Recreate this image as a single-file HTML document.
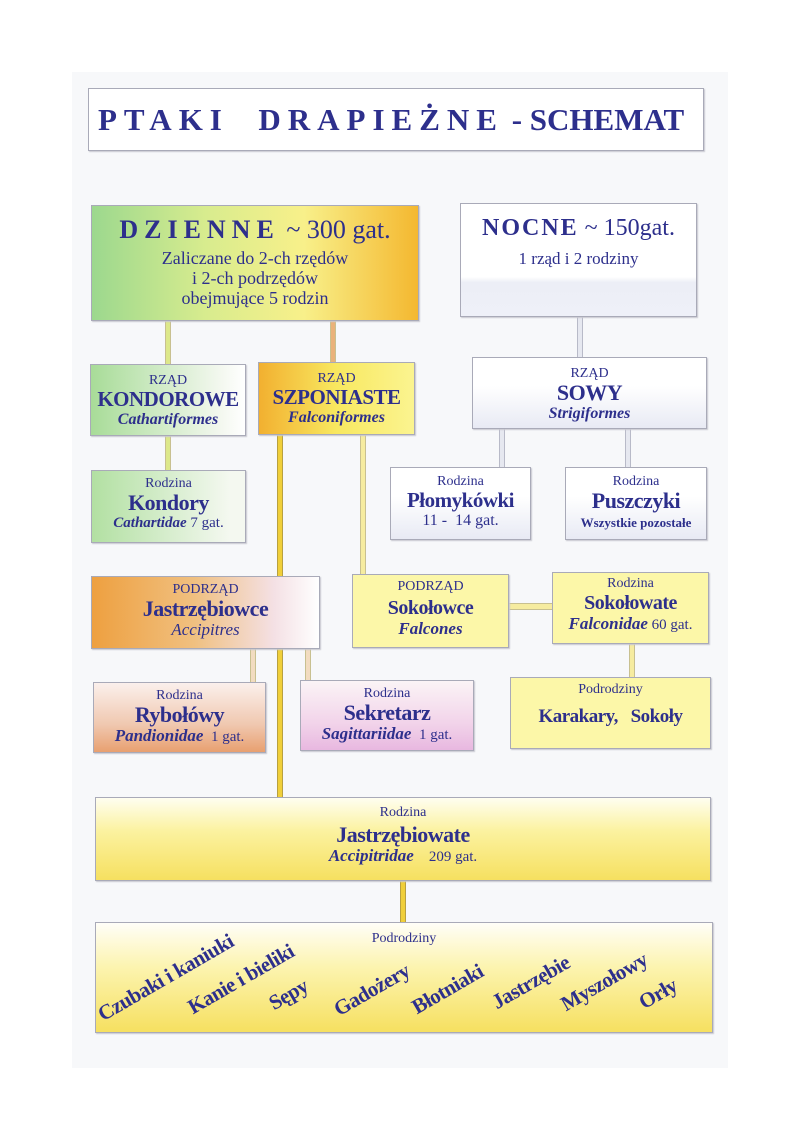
<!DOCTYPE html>
<html><head><meta charset="utf-8"><style>
body{margin:0;width:800px;height:1142px;background:#fff;position:relative;overflow:hidden;font-family:"Liberation Serif",serif;color:#2d2f8c}
.pg{position:absolute;left:72px;top:72px;width:656px;height:996px;background:#f7f8fa}
.b{position:absolute;box-sizing:border-box;border:1px solid #a9aab8;box-shadow:1px 1px 1px #c8c8d0;text-align:center;line-height:1.08}
.v{position:absolute;width:6px;background:#f3e27a;border-left:1px solid #c8c090;border-right:1px solid #c8c090;box-sizing:border-box}
.s{font-size:14px}
.big{font-size:22px;font-weight:bold;letter-spacing:-0.5px}
.it{font-style:italic;font-weight:bold;font-size:16px}
.n{font-size:15px}
.rot{position:absolute;font-weight:bold;font-size:21px;line-height:22px;height:22px;transform-origin:left bottom;transform:rotate(-30deg);white-space:nowrap;letter-spacing:-0.5px}
</style></head><body>
<div class="pg"></div>

<!-- connectors -->
<div class="v" style="left:165px;top:320px;height:44px;background:#dde88a"></div>
<div class="v" style="left:330px;top:320px;height:43px;background:#eab27a"></div>
<div class="v" style="left:577px;top:316px;height:42px;background:#e6e8f0;border-color:#b8bac8"></div>
<div class="v" style="left:165px;top:435px;height:36px;background:#dde88a"></div>
<div class="v" style="left:277px;top:434px;height:364px;background:#f0cf3a;border-color:#b8a040"></div>
<div class="v" style="left:360px;top:434px;height:141px;background:#f6eca0"></div>
<div class="v" style="left:499px;top:428px;height:40px;background:#e6e8f0;border-color:#b8bac8"></div>
<div class="v" style="left:625px;top:428px;height:40px;background:#e6e8f0;border-color:#b8bac8"></div>
<div class="v" style="left:629px;top:643px;height:35px;background:#f6eca0"></div>
<div class="v" style="left:250px;top:648px;height:35px;background:#f2dcc0"></div>
<div class="v" style="left:305px;top:648px;height:33px;background:#f2dcc0"></div>
<div class="v" style="left:400px;top:880px;height:43px;background:#f0cf3a;border-color:#b8a040"></div>
<div style="position:absolute;left:508px;top:603px;width:45px;height:7px;background:#f6eca0;border-top:1px solid #c8c090;border-bottom:1px solid #c8c090;box-sizing:border-box"></div>

<!-- title -->
<div class="b" style="left:88px;top:88px;width:616px;height:63px;background:#fff;">
<div style="position:absolute;left:9px;top:14px;font-size:31px;font-weight:bold;white-space:nowrap"><span style="letter-spacing:7px">PTAKI&nbsp; DRAPIEŻNE</span> - SCHEMAT</div></div>

<div class="b" style="left:91px;top:205px;width:328px;height:116px;background:linear-gradient(90deg,#9cd88e 0%,#d8ec8e 35%,#f8f08a 65%,#f4b830 100%);padding-top:10px">
<div style="font-size:26px"><b style="letter-spacing:6px">DZIENNE</b> ~ 300 gat.</div>
<div style="font-size:18px;margin-top:4px;line-height:1.12">Zaliczane do 2-ch rzędów<br>i 2-ch podrzędów<br>obejmujące 5 rodzin</div></div>

<div class="b" style="left:460px;top:203px;width:237px;height:114px;background:linear-gradient(#fff 0%,#fff 65%,#eceef6 70%,#eef0f8 100%);padding-top:12px">
<div style="font-size:24px"><b style="letter-spacing:2px">NOCNE</b> ~ 150gat.</div>
<div style="font-size:17px;margin-top:8px">1 rząd i 2 rodziny</div></div>

<div class="b" style="left:90px;top:364px;width:156px;height:72px;background:linear-gradient(90deg,#a8dc98,#f4f8f0 85%,#fff);padding-top:8px">
<div class="s">RZĄD</div><div class="big" style="font-size:21px">KONDOROWE</div><div class="it">Cathartiformes</div></div>

<div class="b" style="left:258px;top:362px;width:157px;height:73px;background:linear-gradient(90deg,#f2b030,#f8e860 50%,#fbf490);padding-top:8px">
<div class="s">RZĄD</div><div class="big" style="font-size:21px">SZPONIASTE</div><div class="it">Falconiformes</div></div>

<div class="b" style="left:472px;top:357px;width:235px;height:72px;background:linear-gradient(#fff 40%,#e8eaf4);padding-top:8px">
<div class="s">RZĄD</div><div class="big">SOWY</div><div class="it">Strigiformes</div></div>

<div class="b" style="left:91px;top:470px;width:155px;height:73px;background:linear-gradient(90deg,#b2e0a2,#f4f8f0 90%);padding-top:5px">
<div class="s">Rodzina</div><div class="big">Kondory</div><div class="n"><i><b>Cathartidae</b></i> 7 gat.</div></div>

<div class="b" style="left:390px;top:467px;width:141px;height:73px;background:linear-gradient(#fff 40%,#e8eaf4);padding-top:6px">
<div class="s">Rodzina</div><div class="big" style="font-size:21px">Płomykówki</div><div class="n" style="font-size:16px">11 - &nbsp;14 gat.</div></div>

<div class="b" style="left:565px;top:467px;width:142px;height:73px;background:linear-gradient(#fff 40%,#e8eaf4);padding-top:6px">
<div class="s">Rodzina</div><div class="big">Puszczyki</div><div style="font-size:13px;font-weight:bold;margin-top:3px">Wszystkie pozostałe</div></div>

<div class="b" style="left:91px;top:576px;width:229px;height:73px;background:linear-gradient(90deg,#eea040,#f0c080 45%,#f4e0e4 80%,#fff);padding-top:5px">
<div class="s">PODRZĄD</div><div class="big">Jastrzębiowce</div><div class="it" style="font-size:17px;font-weight:normal">Accipitres</div></div>

<div class="b" style="left:352px;top:574px;width:157px;height:74px;background:#fcf7a8;padding-top:4px">
<div class="s">PODRZĄD</div><div class="big" style="font-size:20px;margin-top:4px">Sokołowce</div><div class="it" style="font-size:17px">Falcones</div></div>

<div class="b" style="left:552px;top:572px;width:157px;height:72px;background:#fcf7a8;padding-top:3px">
<div class="s">Rodzina</div><div class="big" style="font-size:20px;margin-top:2px">Sokołowate</div><div class="n"><i><b style="font-size:17px">Falconidae</b></i> 60 gat.</div></div>

<div class="b" style="left:93px;top:682px;width:173px;height:71px;background:linear-gradient(#fbf0ec,#f0c8b0 60%,#e8a070);padding-top:5px">
<div class="s">Rodzina</div><div class="big">Rybołówy</div><div class="n"><i><b style="font-size:17px">Pandionidae</b></i> &nbsp;1 gat.</div></div>

<div class="b" style="left:300px;top:680px;width:174px;height:71px;background:linear-gradient(#fbf4f6,#f2d4ea 60%,#e8b8e0);padding-top:5px">
<div class="s">Rodzina</div><div class="big">Sekretarz</div><div class="n"><i><b style="font-size:17px">Sagittariidae</b></i> &nbsp;1 gat.</div></div>

<div class="b" style="left:510px;top:677px;width:201px;height:72px;background:#fcf7a8;padding-top:4px">
<div class="s">Podrodziny</div><div class="big" style="font-size:19px;margin-top:10px">Karakary, &nbsp;&nbsp;Sokoły</div></div>

<div class="b" style="left:95px;top:797px;width:616px;height:84px;background:linear-gradient(#fffef0,#fbf2a0 40%,#f6e060);padding-top:7px">
<div class="s">Rodzina</div><div class="big" style="margin-top:3px">Jastrzębiowate</div><div class="n"><i><b style="font-size:17px">Accipitridae</b></i> &nbsp;&nbsp;&nbsp;209 gat.</div></div>

<div class="b" style="left:95px;top:922px;width:618px;height:111px;background:linear-gradient(#fffef8,#fcf4b0 40%,#f6e060);">
<div class="s" style="margin-top:8px">Podrodziny</div></div>
<div class="rot" style="left:105px;top:1003px">Czubaki i kaniuki</div>
<div class="rot" style="left:195px;top:996px">Kanie i bieliki</div>
<div class="rot" style="left:276px;top:992px">Sępy</div>
<div class="rot" style="left:341px;top:998px">Gadożery</div>
<div class="rot" style="left:419px;top:996px">Błotniaki</div>
<div class="rot" style="left:499px;top:991px">Jastrzębie</div>
<div class="rot" style="left:568px;top:993px">Myszołowy</div>
<div class="rot" style="left:646px;top:991px">Orły</div>
</body></html>
